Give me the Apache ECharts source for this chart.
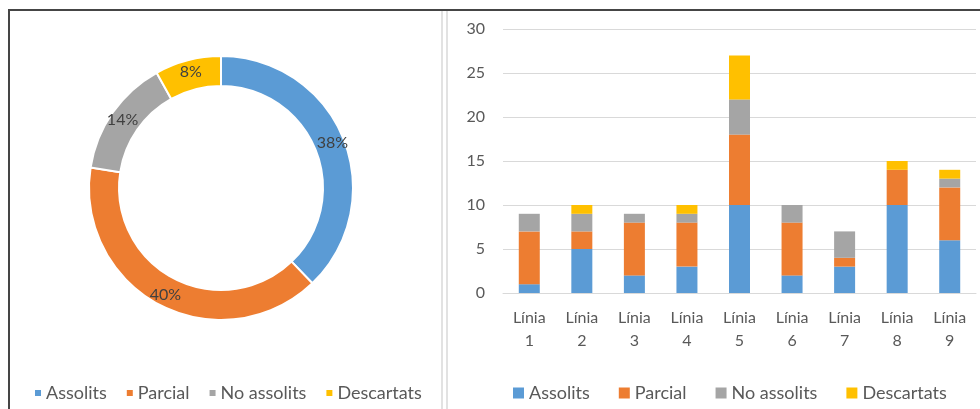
<!DOCTYPE html>
<html>
<head>
<meta charset="utf-8">
<script src="https://cdn.jsdelivr.net/npm/echarts@6/dist/echarts.min.js"></script>
<style>
  html, body { margin: 0; padding: 0; background: #fff; }
  .wrap { position: relative; width: 980px; height: 409px; overflow: hidden; }
  #main { position: absolute; left: 0; top: 0; width: 980px; height: 409px; }
  .frame-top { position: absolute; left: 8px; top: 9px; width: 972px; height: 2px; background: #454545; }
  .frame-left { position: absolute; left: 8px; top: 9px; width: 2px; height: 400px; background: #454545; }
  .sep { position: absolute; top: 11px; width: 2px; height: 398px; background: #e2e2e2; }
</style>
</head>
<body>
<div class="wrap">
  <div id="main"></div>
  <div class="frame-top"></div>
  <div class="frame-left"></div>
  <div class="sep" style="left:441px"></div>
  <div class="sep" style="left:446px"></div>
</div>
<script>
// categories
const lines = ['Línia\n1', 'Línia\n2', 'Línia\n3', 'Línia\n4', 'Línia\n5', 'Línia\n6', 'Línia\n7', 'Línia\n8', 'Línia\n9']
const names = ['Assolits', 'Parcial', 'No assolits', 'Descartats']
const colors = ['#5B9BD5', '#ED7D31', '#A5A5A5', '#FFC000']

// stacked bar values per line
const assolits   = [1, 5, 2, 3, 10, 2, 3, 10, 6]
const parcial    = [6, 2, 6, 5, 8, 6, 1, 4, 6]
const noAssolits = [2, 2, 1, 1, 4, 2, 3, 0, 1]
const descartats = [0, 1, 0, 1, 5, 0, 0, 1, 1]

// donut totals
const pieValues = [42, 44, 16, 9]

const font = 'Lato, "Open Sans", sans-serif'
const txt = '#595959'

const chart = echarts.init(document.getElementById('main'))

const barData = [assolits, parcial, noAssolits, descartats]

const option = {
  animation: false,
  textStyle: { fontFamily: font },
  legend: [
    {
      data: names,
      left: 30,
      top: 379,
      icon: 'rect',
      itemWidth: 6,
      itemHeight: 6,
      itemGap: 20,
      textStyle: { color: txt, fontSize: 18, fontFamily: font }
    },
    {
      data: names,
      left: 508,
      top: 379,
      icon: 'rect',
      itemWidth: 11,
      itemHeight: 11,
      itemGap: 29,
      textStyle: { color: txt, fontSize: 18, fontFamily: font }
    }
  ],
  grid: { left: 503, right: 4, top: 29, bottom: 116 },
  xAxis: {
    type: 'category',
    data: lines,
    axisTick: { show: false },
    axisLine: { lineStyle: { color: '#d9d9d9', width: 1 } },
    axisLabel: { color: txt, fontSize: 16, lineHeight: 23, margin: 13, fontFamily: font }
  },
  yAxis: {
    type: 'value',
    min: 0,
    max: 30,
    interval: 5,
    axisLine: { show: false },
    axisTick: { show: false },
    splitLine: { lineStyle: { color: '#d9d9d9', width: 1 } },
    axisLabel: { color: txt, fontSize: 16, margin: 18, fontFamily: font }
  },
  series: [
    {
      type: 'pie',
      center: [221, 188],
      radius: [102, 132],
      startAngle: 90,
      percentPrecision: 0,
      itemStyle: { borderColor: '#fff', borderWidth: 2 },
      label: {
        position: 'inside',
        formatter: '{d}%',
        color: '#404040',
        fontSize: 16,
        fontFamily: font
      },
      labelLine: { show: false },
      data: names.map((n, i) => ({ name: n, value: pieValues[i], itemStyle: { color: colors[i] } }))
    }
  ].concat(names.map((n, i) => ({
    type: 'bar',
    name: n,
    stack: 'total',
    barWidth: 21,
    itemStyle: { color: colors[i] },
    data: barData[i]
  })))
}

chart.setOption(option)
</script>
</body>
</html>
